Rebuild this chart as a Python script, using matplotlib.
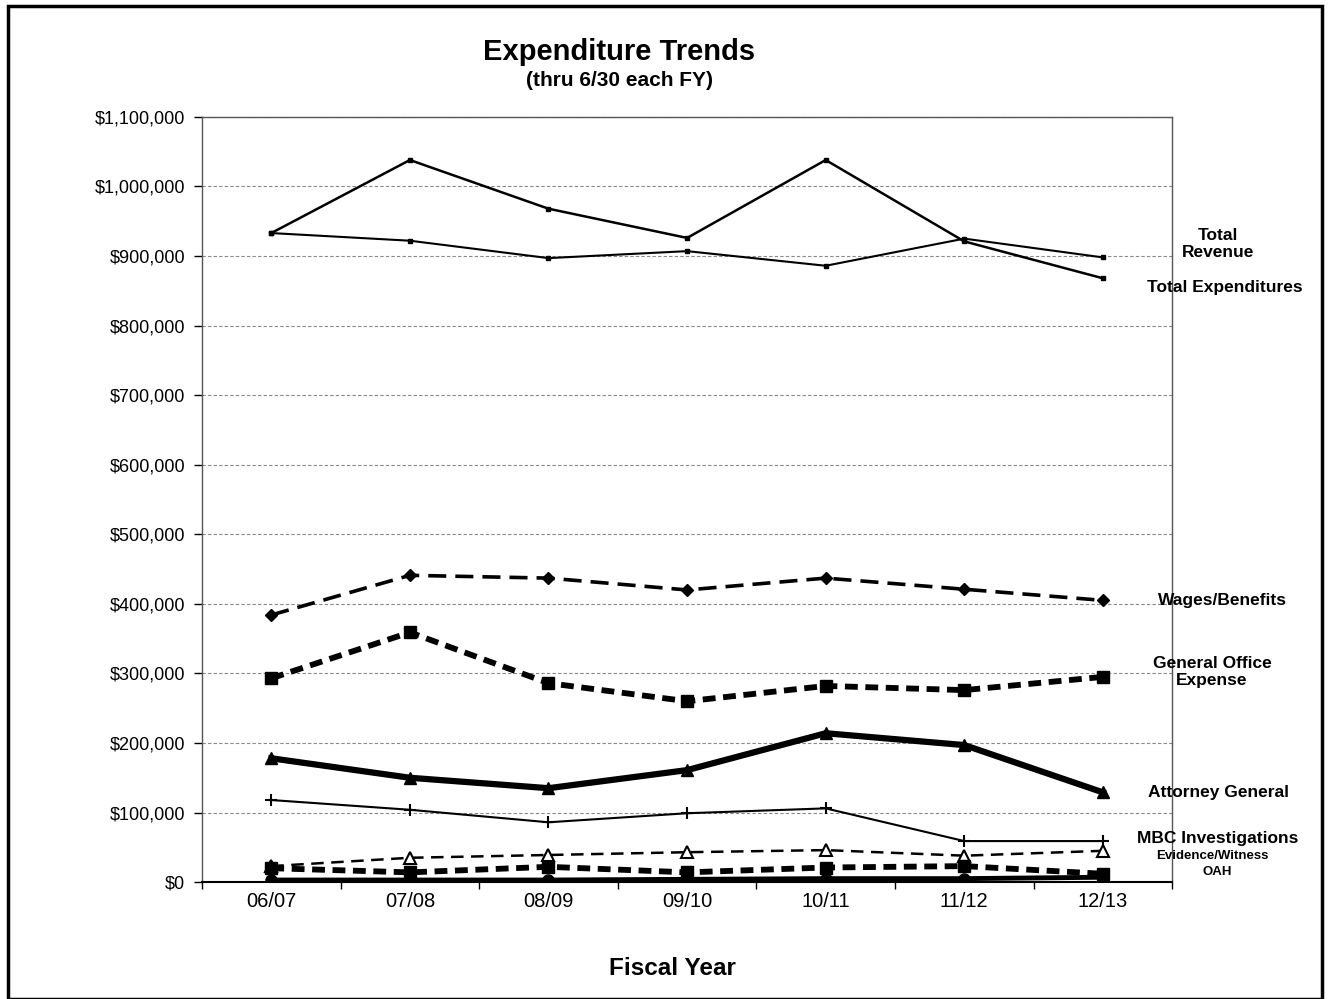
import matplotlib.pyplot as plt
from matplotlib.patches import Rectangle
from matplotlib.ticker import FuncFormatter, FixedLocator

plt.rcParams['font.family'] = ['Liberation Sans', 'DejaVu Sans']

years = ['06/07', '07/08', '08/09', '09/10', '10/11', '11/12', '12/13']

total_expenditures = [933000, 1038000, 968000, 926000, 1038000, 921000, 868000]
total_revenue = [933000, 922000, 897000, 907000, 886000, 925000, 898000]
wages_benefits = [384000, 441000, 437000, 420000, 437000, 421000, 405000]
general_office = [293000, 359000, 286000, 260000, 282000, 276000, 295000]
attorney_general = [178000, 150000, 135000, 161000, 214000, 197000, 129000]
mbc_investigations = [118000, 104000, 86000, 99000, 106000, 59000, 59000]
evidence_witness = [23000, 35000, 39000, 43000, 46000, 38000, 45000]
oah = [20000, 14000, 22000, 14000, 21000, 23000, 12000]
other = [3000, 3000, 3000, 4000, 5000, 5000, 7000]

fig = plt.figure(figsize=(13.29, 9.99), dpi=100)
ax = fig.add_axes([0.152, 0.117, 0.730, 0.766])

x = list(range(len(years)))

# totals
ax.plot(x, total_expenditures, color='black', lw=1.8, marker='s', ms=2.5)
ax.plot(x, total_revenue, color='black', lw=1.5, marker='s', ms=2.5)

# expense categories
ax.plot(x, wages_benefits, color='black', lw=2.6, ls=(0, (5, 2.5)), marker='D', ms=6)
ax.plot(x, general_office, color='black', lw=4.2, ls=(0, (2.2, 1.3)), marker='s', ms=8)
ax.plot(x, attorney_general, color='black', lw=4.5, marker='^', ms=9)
ax.plot(x, mbc_investigations, color='black', lw=1.5, marker='+', ms=9, mew=1.5)
ax.plot(x, evidence_witness, color='black', lw=1.8, ls=(0, (5, 3)), marker='^',
        ms=8, mfc='white', mew=1.5)
ax.plot(x, oah, color='black', lw=4.2, ls=(0, (2.2, 1.3)), marker='s', ms=8)
ax.plot(x, other, color='black', lw=3.5, marker='o', ms=8)

# axes
ax.set_xlim(-0.5, len(years) - 0.5)
ax.set_ylim(0, 1100000)
ax.set_yticks(range(0, 1100001, 100000))
ax.yaxis.set_major_formatter(FuncFormatter(lambda v, p: '${:,.0f}'.format(v)))
ax.set_xticks(x)
ax.set_xticklabels(years)
ax.xaxis.set_minor_locator(FixedLocator([i + 0.5 for i in range(-1, len(years))]))
ax.tick_params(axis='x', which='major', length=0, pad=7, labelsize=14.5)
ax.tick_params(axis='x', which='minor', length=5, direction='out', width=1)
ax.tick_params(axis='y', length=6, width=1, labelsize=13, pad=6)
ax.grid(axis='y', color='#888888', ls=(0, (3, 2)), lw=0.8)
ax.set_axisbelow(True)
for s in ax.spines.values():
    s.set_linewidth(1.0)
    s.set_color('#555555')
ax.spines['bottom'].set_color('black')
ax.spines['bottom'].set_linewidth(1.5)

# titles
fig.text(0.466, 0.948, 'Expenditure Trends', ha='center', va='center',
         fontsize=21, fontweight='bold')
fig.text(0.466, 0.919, '(thru 6/30 each FY)', ha='center', va='center',
         fontsize=15, fontweight='bold')
fig.text(0.506, 0.031, 'Fiscal Year', ha='center', va='center',
         fontsize=17.5, fontweight='bold')

# series labels on the right
labels = [
    ('Total\nRevenue', 1218, 244, 12.5),
    ('Total Expenditures', 1225, 288, 12.5),
    ('Wages/Benefits', 1222, 600, 12.5),
    ('General Office\nExpense', 1212, 672, 12.5),
    ('Attorney General', 1218, 793, 12.5),
    ('MBC Investigations', 1218, 838, 12.5),
    ('Evidence/Witness', 1212, 856, 9.5),
    ('OAH', 1217, 872, 9.5),
]
for txt, px, py, fs in labels:
    fig.text(px / 1329, 1 - py / 999, txt, ha='center', va='center',
             fontsize=fs, fontweight='bold', linespacing=1.2)

# outer border
fig.patches.append(Rectangle((8 / 1329, 0.0), 1314 / 1329, 993 / 999,
                             transform=fig.transFigure, fill=False,
                             edgecolor='black', lw=2.5))

fig.savefig('out.png', dpi=100)
